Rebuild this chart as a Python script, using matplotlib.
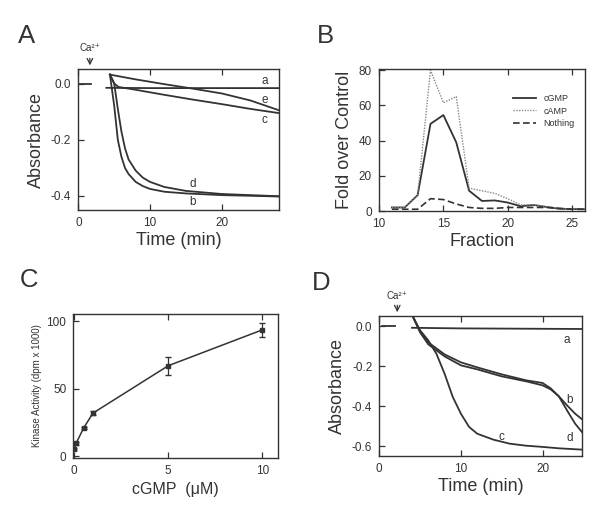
import matplotlib
matplotlib.use("Agg")
import matplotlib.pyplot as plt

plt.rcParams['font.family'] = ['Liberation Sans', 'DejaVu Sans']

# ---- panel A: absorbance vs time ----
a_pre_t = [0.2, 1.7]
a_pre_y = [0.0, 0.0]
a_a_t = [3.9, 10, 20, 28]
a_a_y = [-0.015, -0.016, -0.016, -0.016]
a_e_t = [4.4, 8, 12, 16, 20, 24, 28]
a_e_y = [0.032, 0.015, -0.002, -0.018, -0.035, -0.06, -0.095]
a_c_t = [4.4, 5.0, 5.6, 8, 12, 16, 20, 24, 28]
a_c_y = [0.032, 0.0, -0.012, -0.022, -0.04, -0.057, -0.073, -0.09, -0.105]
a_b_t = [4.4, 5.0, 5.5, 6.0, 6.5, 7.0, 8, 9, 10, 12, 15, 20, 25, 28]
a_b_y = [0.032, -0.08, -0.2, -0.26, -0.3, -0.322, -0.35, -0.365, -0.375, -0.385, -0.391, -0.397, -0.4, -0.402]
a_d_t = [4.4, 5.0, 5.5, 6.0, 6.5, 7.0, 8, 9, 10, 12, 15, 20, 25, 28]
a_d_y = [0.032, 0.0, -0.09, -0.17, -0.23, -0.27, -0.31, -0.335, -0.35, -0.368, -0.382, -0.393, -0.398, -0.401]

# ---- panel B: fractions ----
fractions = [11, 12, 13, 14, 15, 16, 17, 18, 19, 20, 21, 22, 23, 24, 25, 26]
cgmp = [2, 2, 9, 49.5, 54.5, 39, 11.5, 5.7, 6, 4.8, 2.7, 3.4, 2.3, 1.3, 1.1, 1]
camp = [2, 2, 9, 80, 61.5, 65, 13, 11.5, 10, 7, 3.5, 3.5, 2.5, 1.5, 1, 1]
nothing = [1, 1, 1, 7, 6.5, 4, 2, 1.5, 1.5, 2, 2, 2, 2, 1.5, 1, 1]

# ---- panel C: kinase activity ----
conc = [0, 0.1, 0.5, 1, 5, 10]
activity = [5.5, 9.6, 21, 32, 67, 93.5]
activity_err = [1, 1, 1, 1.5, 6.5, 5]

# ---- panel D ----
d_pre_t = [0.3, 1.9]
d_pre_y = [0.0, 0.0]
d_a_t = [4.0, 10, 20, 25]
d_a_y = [-0.007, -0.01, -0.012, -0.013]
d_b_t = [4.1, 5.0, 6, 8, 10, 12, 15, 18, 20, 21, 22, 23, 24, 25]
d_b_y = [0.05, -0.025, -0.08, -0.14, -0.18, -0.205, -0.24, -0.27, -0.283, -0.31, -0.35, -0.395, -0.437, -0.47]
d_d_t = [4.1, 5.0, 6, 8, 10, 12, 15, 18, 20, 21, 22, 23, 24, 25]
d_d_y = [0.05, -0.03, -0.09, -0.15, -0.195, -0.215, -0.25, -0.275, -0.295, -0.315, -0.35, -0.42, -0.487, -0.537]
d_c_t = [4.1, 5.0, 6, 7, 8, 9, 10, 11, 12, 14, 16, 18, 20, 22, 25]
d_c_y = [0.05, -0.02, -0.07, -0.137, -0.237, -0.353, -0.437, -0.503, -0.537, -0.567, -0.587, -0.597, -0.603, -0.61, -0.617]

dark = '#333333'
W, H = 601, 514
fig = plt.figure(figsize=(W / 100, H / 100), dpi=100)


def style(ax):
    for s in ax.spines.values():
        s.set_color(dark)
        s.set_linewidth(1.0)
    ax.tick_params(direction='in', top=True, right=False, length=4,
                   colors=dark, labelsize=8.5, width=0.9, pad=5)


def box(l, r, t, b):
    return [l / W, 1 - b / H, (r - l) / W, (b - t) / H]


def calcium(ax, x, y_tip, y_tail, y_text):
    ax.annotate('', xy=(x, y_tip), xytext=(x, y_tail), xycoords='data',
                arrowprops=dict(arrowstyle='->', color=dark, lw=0.9),
                annotation_clip=False)
    ax.text(x, y_text, 'Ca\u00b2\u207a', fontsize=7, color=dark, ha='center',
            va='bottom', family=['Liberation Sans', 'DejaVu Sans'])


# A
ax = fig.add_axes(box(77.7, 279, 69, 210))
style(ax)
for t, y in [(a_pre_t, a_pre_y), (a_a_t, a_a_y), (a_e_t, a_e_y), (a_c_t, a_c_y),
             (a_b_t, a_b_y), (a_d_t, a_d_y)]:
    ax.plot(t, y, color=dark, lw=1.3)
ax.set_xlim(-0.1, 28)
ax.set_ylim(-0.45, 0.052)
ax.set_xticks([0, 10, 20])
ax.set_yticks([0.0, -0.2, -0.4])
ax.set_yticklabels(['0.0', '-0.2', '-0.4'])
ax.set_xlabel('Time (min)', fontsize=13, color=dark, labelpad=2)
ax.set_ylabel('Absorbance', fontsize=13, color=dark, labelpad=4)
for lab, x, y in [('a', 26, 0.008), ('e', 26, -0.057), ('c', 26, -0.131),
                  ('d', 15.9, -0.357), ('b', 15.9, -0.423)]:
    ax.text(x, y, lab, fontsize=8.5, color=dark, ha='center', va='center')
calcium(ax, 1.6, 0.055, 0.1, 0.11)

# B
ax = fig.add_axes(box(379, 585, 69.3, 211))
style(ax)
ax.plot(fractions, cgmp, color=dark, lw=1.3, label='cGMP')
ax.plot(fractions, camp, color='#888888', lw=1.0, ls=(0, (1, 1)), label='cAMP')
ax.plot(fractions, nothing, color=dark, lw=1.2, ls=(0, (4, 2)), label='Nothing')
ax.set_xlim(10, 26)
ax.set_ylim(0, 80.5)
ax.set_xticks([10, 15, 20, 25])
ax.set_yticks([0, 20, 40, 60, 80])
ax.set_xlabel('Fraction', fontsize=13, color=dark, labelpad=2)
ax.set_ylabel('Fold over Control', fontsize=13, color=dark, labelpad=4)
leg = ax.legend(loc='upper right', fontsize=6.5, frameon=False, handlelength=2.6,
                labelspacing=0.35, bbox_to_anchor=(0.99, 0.88))
for tx in leg.get_texts():
    tx.set_color(dark)

# C
ax = fig.add_axes(box(73.3, 278.3, 314.3, 457.7))
style(ax)
ax.errorbar(conc, activity, yerr=activity_err, color=dark, lw=1.1, marker='s',
            markersize=2.5, capsize=2.5, elinewidth=0.9)
ax.set_xlim(-0.05, 10.85)
ax.set_ylim(-1, 105)
ax.set_xticks([0, 5, 10])
ax.set_yticks([0, 50, 100])
ax.set_xlabel('cGMP  (\u03bcM)', fontsize=11.5, color=dark, labelpad=4)
ax.set_ylabel('Kinase Activity (dpm x 1000)', fontsize=7, color=dark, labelpad=3)

# D
ax = fig.add_axes(box(379.3, 581.7, 316, 456.3))
style(ax)
for t, y in [(d_pre_t, d_pre_y), (d_a_t, d_a_y), (d_b_t, d_b_y), (d_d_t, d_d_y),
             (d_c_t, d_c_y)]:
    ax.plot(t, y, color=dark, lw=1.3)
ax.set_xlim(0, 24.8)
ax.set_ylim(-0.65, 0.052)
ax.set_xticks([0, 10, 20])
ax.set_yticks([0.0, -0.2, -0.4, -0.6])
ax.set_yticklabels(['0.0', '-0.2', '-0.4', '-0.6'])
ax.set_xlabel('Time (min)', fontsize=13, color=dark, labelpad=2)
ax.set_ylabel('Absorbance', fontsize=13, color=dark, labelpad=4)
for lab, x, y in [('a', 23, -0.07), ('b', 23.3, -0.37), ('d', 23.3, -0.558),
                  ('c', 15, -0.553)]:
    ax.text(x, y, lab, fontsize=8.5, color=dark, ha='center', va='center')
calcium(ax, 2.2, 0.057, 0.12, 0.125)

# panel letters
for lab, x, y in [('A', 18, 43), ('B', 317, 43), ('C', 20, 287), ('D', 312, 290)]:
    fig.text(x / W, 1 - y / H, lab, fontsize=18.5, color=dark, ha='left', va='baseline')

fig.savefig('out.png', dpi=100)
